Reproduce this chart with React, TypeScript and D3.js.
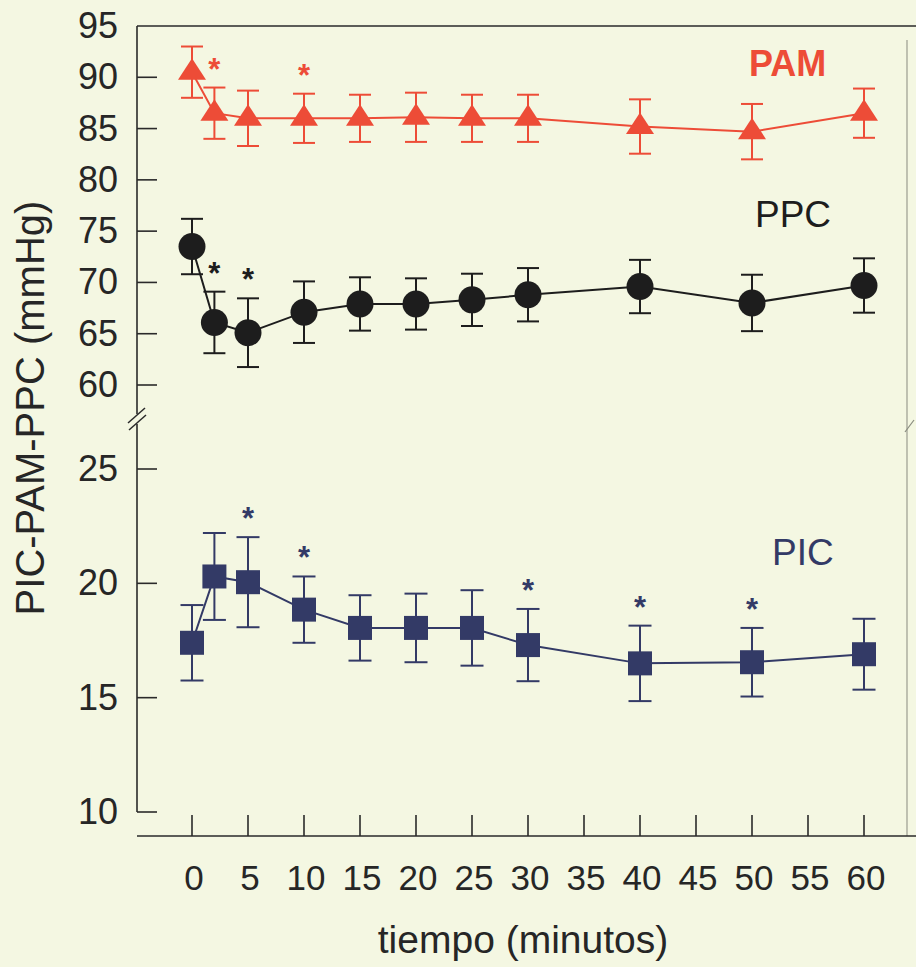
import React from "react";
import * as d3 from "d3";

// Sampling times (minutes) shared by all three series
const times = [0, 2, 5, 10, 15, 20, 25, 30, 40, 50, 60];

// PAM (mean arterial pressure), mmHg
const pamMean = [90.5, 86.5, 86.0, 86.0, 86.0, 86.1, 86.0, 86.0, 85.2, 84.7, 86.5];
const pamErr = [2.5, 2.5, 2.7, 2.4, 2.3, 2.4, 2.3, 2.3, 2.65, 2.7, 2.4];
const pamSig = [2, 10];

// PPC (cerebral perfusion pressure), mmHg
const ppcMean = [73.5, 66.1, 65.1, 67.1, 67.9, 67.9, 68.3, 68.8, 69.6, 68.0, 69.7];
const ppcErr = [2.7, 3.0, 3.35, 3.0, 2.6, 2.5, 2.55, 2.6, 2.6, 2.75, 2.65];
const ppcSig = [2, 5];

// PIC (intracranial pressure), mmHg
const picMean = [17.4, 20.3, 20.05, 18.85, 18.05, 18.05, 18.05, 17.3, 16.5, 16.55, 16.9];
const picErr = [1.65, 1.9, 1.97, 1.45, 1.43, 1.5, 1.65, 1.58, 1.65, 1.5, 1.55];
const picSig = [5, 10, 30, 40, 50];

// Axis ticks
const xTicks = [0, 5, 10, 15, 20, 25, 30, 35, 40, 45, 50, 55, 60];
const upperTicks = [60, 65, 70, 75, 80, 85, 90, 95];
const lowerTicks = [10, 15, 20, 25];

const W = 916;
const H = 967;
const FONT = "'Liberation Sans', Arial, Helvetica, sans-serif";
const BG = "#f4f7e2";
const AXIS = "#2a2a2a";
const TEXT = "#262626";
const RED = "#ed4c37";
const BLACK = "#1d1d1d";
const NAVY = "#333a66";

const x = d3.scaleLinear().domain([0, 60]).range([192, 864]);
const yTop = d3.scaleLinear().domain([60, 95]).range([385, 26]);
const yBot = d3.scaleLinear().domain([10, 25]).range([812, 469]);

const AX_X = 137;
const AX_Y = 836;

type Pt = { t: number; v: number; e: number };

function zip(mean: number[], err: number[]): Pt[] {
  return times.map((t, i) => ({ t, v: mean[i], e: err[i] }));
}

function Series({
  data,
  y,
  color,
  sig,
  marker,
  capW,
}: {
  data: Pt[];
  y: d3.ScaleLinear<number, number>;
  color: string;
  sig: number[];
  marker: "triangle" | "circle" | "square";
  capW: number;
}) {
  const line = d3
    .line<Pt>()
    .x((d) => x(d.t))
    .y((d) => y(d.v));
  return (
    <g>
      <path d={line(data) || ""} fill="none" stroke={color} strokeWidth={2} />
      {data.map((d, i) => {
        const cx = x(d.t);
        const top = y(d.v + d.e);
        const bot = y(d.v - d.e);
        return (
          <g key={i} stroke={color} strokeWidth={2}>
            <line x1={cx} x2={cx} y1={top} y2={bot} />
            <line x1={cx - capW / 2} x2={cx + capW / 2} y1={top} y2={top} />
            <line x1={cx - capW / 2} x2={cx + capW / 2} y1={bot} y2={bot} />
          </g>
        );
      })}
      {data.map((d, i) => {
        const cx = x(d.t);
        const cy = y(d.v);
        if (marker === "triangle") {
          return (
            <path
              key={"m" + i}
              d={`M${cx},${cy - 14}L${cx + 14},${cy + 7.5}L${cx - 14},${cy + 7.5}Z`}
              fill={color}
            />
          );
        }
        if (marker === "circle") {
          return <circle key={"m" + i} cx={cx} cy={cy} r={13.5} fill={color} />;
        }
        return (
          <rect key={"m" + i} x={cx - 12} y={cy - 12} width={24} height={24} fill={color} />
        );
      })}
      {data
        .filter((d) => sig.includes(d.t))
        .map((d, i) => (
          <text
            key={"s" + i}
            x={x(d.t)}
            y={y(d.v + d.e) - 8}
            textAnchor="middle"
            fontFamily={FONT}
            fontWeight="bold"
            fontSize={31}
            fill={color}
          >
            *
          </text>
        ))}
    </g>
  );
}

export default function App() {
  const pam = zip(pamMean, pamErr);
  const ppc = zip(ppcMean, ppcErr);
  const pic = zip(picMean, picErr);

  const breakTop = 414;
  const breakBot = 424;

  return (
    <svg
      width={W}
      height={H}
      viewBox={`0 0 ${W} ${H}`}
      style={{ position: "absolute", left: 0, top: 0, display: "block" }}
    >
      <rect x={0} y={0} width={W} height={H} fill={BG} />

      {/* frame: top edge and faint right edge */}
      <line x1={AX_X} x2={W} y1={26} y2={26} stroke={AXIS} strokeWidth={1.6} />
      <line x1={907} x2={907} y1={40} y2={AX_Y} stroke="#9a9c90" strokeWidth={1.2} />
      <line x1={905} x2={914} y1={432} y2={420} stroke="#8a8c80" strokeWidth={1.2} />

      {/* y axis, upper segment */}
      <line x1={AX_X} x2={AX_X} y1={26} y2={breakTop} stroke={AXIS} strokeWidth={1.6} />
      {/* y axis, lower segment */}
      <line x1={AX_X} x2={AX_X} y1={breakBot} y2={yBot(10)} stroke={AXIS} strokeWidth={1.6} />
      {/* axis break marks */}
      <line x1={128} x2={145} y1={423} y2={408} stroke={AXIS} strokeWidth={1.5} />
      <line x1={129} x2={146} y1={430} y2={415} stroke={AXIS} strokeWidth={1.5} />

      {upperTicks.map((v) => (
        <g key={"u" + v}>
          {v !== 95 && (
            <line x1={AX_X} x2={157} y1={yTop(v)} y2={yTop(v)} stroke={AXIS} strokeWidth={1.6} />
          )}
          <text
            x={118}
            y={yTop(v) + 12}
            textAnchor="end"
            fontFamily={FONT}
            fontSize={36}
            fill={TEXT}
          >
            {v}
          </text>
        </g>
      ))}
      {lowerTicks.map((v) => (
        <g key={"l" + v}>
          <line x1={AX_X} x2={157} y1={yBot(v)} y2={yBot(v)} stroke={AXIS} strokeWidth={1.6} />
          <text
            x={118}
            y={yBot(v) + 12}
            textAnchor="end"
            fontFamily={FONT}
            fontSize={36}
            fill={TEXT}
          >
            {v}
          </text>
        </g>
      ))}

      {/* x axis */}
      <line x1={AX_X} x2={W} y1={AX_Y} y2={AX_Y} stroke={AXIS} strokeWidth={1.6} />
      {xTicks.map((t) => (
        <g key={"x" + t}>
          <line x1={x(t)} x2={x(t)} y1={AX_Y} y2={AX_Y - 21} stroke={AXIS} strokeWidth={1.6} />
          <text
            x={x(t) + 2}
            y={890}
            textAnchor="middle"
            fontFamily={FONT}
            fontSize={35}
            fill={TEXT}
          >
            {t}
          </text>
        </g>
      ))}

      {/* axis titles */}
      <text
        x={523}
        y={953}
        textAnchor="middle"
        fontFamily={FONT}
        fontSize={39}
        fill={TEXT}
      >
        tiempo (minutos)
      </text>
      <text
        transform="translate(44,408) rotate(-90)"
        textAnchor="middle"
        fontFamily={FONT}
        fontSize={40}
        fill={TEXT}
      >
        PIC-PAM-PPC (mmHg)
      </text>

      <Series data={pam} y={yTop} color={RED} sig={pamSig} marker="triangle" capW={22} />
      <Series data={ppc} y={yTop} color={BLACK} sig={ppcSig} marker="circle" capW={22} />
      <Series data={pic} y={yBot} color={NAVY} sig={picSig} marker="square" capW={23} />

      {/* series labels */}
      <text x={749} y={76} fontFamily={FONT} fontSize={36} fontWeight="bold" fill={RED}>
        PAM
      </text>
      <text x={755} y={227} fontFamily={FONT} fontSize={37} fill={BLACK}>
        PPC
      </text>
      <text x={772} y={565} fontFamily={FONT} fontSize={37} fill={NAVY}>
        PIC
      </text>
    </svg>
  );
}
